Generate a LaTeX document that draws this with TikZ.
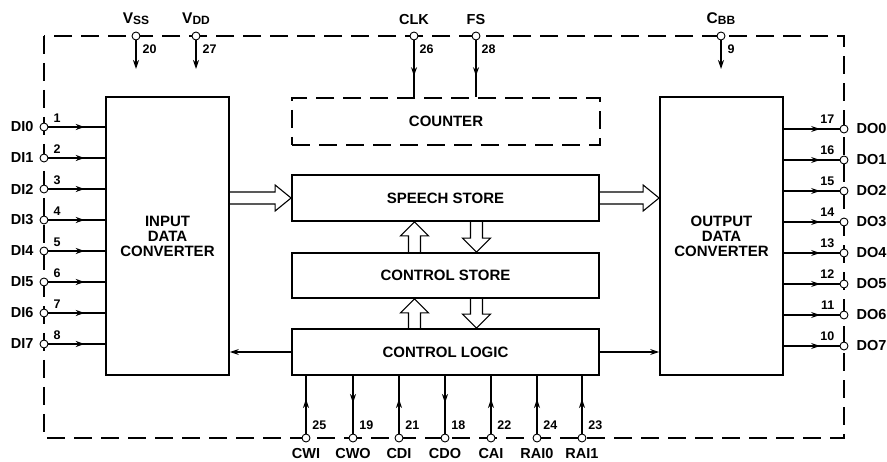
\documentclass[tikz,border=0pt]{standalone}
\usepackage{fontspec}
\setmainfont{Liberation Sans}
\usetikzlibrary{arrows.meta,positioning,calc,decorations.markings}

\tikzset{
  pintip/.tip={Stealth[length=9pt,width=6pt]},
  block/.style={draw, line width=1.8pt, align=center, inner sep=0pt,
                font=\fontsize{15}{15}\selectfont\bfseries},
  border/.style={line width=1.6pt, dash pattern=on 18pt off 9pt},
  pin/.style={draw, circle, fill=white, line width=0.9pt, minimum size=8pt, inner sep=0pt},
  pinlbl/.style={inner sep=0pt, font=\fontsize{14.5}{15}\selectfont\bfseries},
  num/.style={inner sep=0pt, font=\fontsize{12.5}{13}\selectfont\bfseries},
  wire/.style={line width=1.1pt},
  midarrow/.style={decoration={markings, mark=at position #1 with {\arrow{pintip}}},
                   postaction={decorate}},
  fatline/.style={line width=1.1pt, line join=miter},
}

% hollow bus arrows
\newcommand{\fatright}[2]{%
  \draw[fatline] let \p1=#1, \p2=#2 in
    (\x1,\y1+6pt) -- (\x2-16pt,\y1+6pt) -- (\x2-16pt,\y1+13pt) -- (\x2,\y1)
    -- (\x2-16pt,\y1-13pt) -- (\x2-16pt,\y1-6pt) -- (\x1,\y1-6pt);}
\newcommand{\fatup}[2]{%
  \draw[fatline] let \p1=#1, \p2=#2 in
    (\x1-6pt,\y1) -- (\x1-6pt,\y2-14pt) -- (\x1-14pt,\y2-14pt) -- (\x1,\y2)
    -- (\x1+14pt,\y2-14pt) -- (\x1+6pt,\y2-14pt) -- (\x1+6pt,\y1);}
\newcommand{\fatdown}[2]{%
  \draw[fatline] let \p1=#1, \p2=#2 in
    (\x1-6pt,\y1) -- (\x1-6pt,\y2+14pt) -- (\x1-14pt,\y2+14pt) -- (\x1,\y2)
    -- (\x1+14pt,\y2+14pt) -- (\x1+6pt,\y2+14pt) -- (\x1+6pt,\y1);}

\begin{document}
\begin{tikzpicture}[x=1pt, y=-1pt]
    \useasboundingbox (0,0) rectangle (887,462);

    % ---- package outline ----
    \draw[border] (44,36) rectangle (844,438);

    % ---- blocks ----
    \node[block, minimum width=123pt, minimum height=278pt] (idc) at (167.5,236)
      {INPUT\\DATA\\CONVERTER};
    \node[block, minimum width=123pt, minimum height=278pt] (odc) at (721.5,236)
      {OUTPUT\\DATA\\CONVERTER};
    \node[block, border, minimum width=308pt, minimum height=47pt] (counter) at (446,121.5)
      {COUNTER};
    \node[block, minimum width=307pt, minimum height=46pt] (speech) at (445.5,198)
      {SPEECH STORE};
    \node[block, minimum width=307pt, minimum height=45pt] (ctrlstore) at (445.5,275.5)
      {CONTROL STORE};
    \node[block, minimum width=307pt, minimum height=46pt] (logic) at (445.5,352)
      {CONTROL LOGIC};

    % ---- bus arrows ----
    \fatright{(idc.east |- speech)}{(speech.west)}
    \fatright{(speech.east)}{(odc.west |- speech)}
    \fatup{([xshift=-31pt]ctrlstore.north)}{([xshift=-31pt]speech.south)}
    \fatdown{([xshift=31pt]speech.south)}{([xshift=31pt]ctrlstore.north)}
    \fatup{([xshift=-31pt]logic.north)}{([xshift=-31pt]ctrlstore.south)}
    \fatdown{([xshift=31pt]ctrlstore.south)}{([xshift=31pt]logic.north)}

    % ---- control logic to converters ----
    \draw[wire, -{pintip}] (logic.west) -- (logic.west -| idc.east);
    \draw[wire, -{pintip}] (logic.east) -- (logic.east -| odc.west);

    % ---- top pins ----
    \node[pin] (vss) at (136,36) {};
    \node[pin] (vdd) at (196,36) {};
    \node[pin] (clk) at (414,36) {};
    \node[pin] (fs)  at (476,36) {};
    \node[pin] (cbb) at (721,36) {};
    \coordinate (vssend) at (136,69);
    \coordinate (vddend) at (196,69);
    \coordinate (cbbend) at (721,69);
    \draw[wire, -{pintip}] (vss) -- (vssend);
    \draw[wire, -{pintip}] (vdd) -- (vddend);
    \draw[wire, -{pintip}] (cbb) -- (cbbend);
    \draw[wire, midarrow=0.63] (clk) -- (clk |- counter.north);
    \draw[wire, midarrow=0.63] (fs) -- (fs |- counter.north);
    \node[pinlbl, anchor=south] at ([yshift=7pt]vss.north)
      {\fontsize{15.5}{16}\selectfont V\raisebox{-1pt}{\fontsize{12}{12}\selectfont SS}};
    \node[pinlbl, anchor=south] at ([yshift=7pt]vdd.north)
      {\fontsize{15.5}{16}\selectfont V\raisebox{-1pt}{\fontsize{12}{12}\selectfont DD}};
    \node[pinlbl, anchor=south] at ([yshift=7pt]clk.north) {CLK};
    \node[pinlbl, anchor=south] at ([yshift=7pt]fs.north) {FS};
    \node[pinlbl, anchor=south] at ([yshift=7pt]cbb.north)
      {\fontsize{15.5}{16}\selectfont C\raisebox{-1pt}{\fontsize{12}{12}\selectfont BB}};
    \node[num, anchor=north west] at ([xshift=2pt,yshift=-9pt]vss.east) {20};
    \node[num, anchor=north west] at ([xshift=2pt,yshift=-9pt]vdd.east) {27};
    \node[num, anchor=north west] at ([xshift=1pt,yshift=-9pt]clk.east) {26};
    \node[num, anchor=north west] at ([xshift=1pt,yshift=-9pt]fs.east) {28};
    \node[num, anchor=north west] at ([xshift=2pt,yshift=-9pt]cbb.east) {9};

    % ---- left pins: DI0..DI7 ----
    \node[pin] (di0) at (44,127) {};
    \node[pin] (di1) at (44,158) {};
    \node[pin] (di2) at (44,189) {};
    \node[pin] (di3) at (44,220) {};
    \node[pin] (di4) at (44,251) {};
    \node[pin] (di5) at (44,282) {};
    \node[pin] (di6) at (44,313) {};
    \node[pin] (di7) at (44,344) {};
    \draw[wire, midarrow=0.64] (di0) -- (di0 -| idc.west);
    \draw[wire, midarrow=0.64] (di1) -- (di1 -| idc.west);
    \draw[wire, midarrow=0.64] (di2) -- (di2 -| idc.west);
    \draw[wire, midarrow=0.64] (di3) -- (di3 -| idc.west);
    \draw[wire, midarrow=0.64] (di4) -- (di4 -| idc.west);
    \draw[wire, midarrow=0.64] (di5) -- (di5 -| idc.west);
    \draw[wire, midarrow=0.64] (di6) -- (di6 -| idc.west);
    \draw[wire, midarrow=0.64] (di7) -- (di7 -| idc.west);
    \node[pinlbl, anchor=east] at ([xshift=-6pt]di0.west) {DI0};
    \node[pinlbl, anchor=east] at ([xshift=-6pt]di1.west) {DI1};
    \node[pinlbl, anchor=east] at ([xshift=-6pt]di2.west) {DI2};
    \node[pinlbl, anchor=east] at ([xshift=-6pt]di3.west) {DI3};
    \node[pinlbl, anchor=east] at ([xshift=-6pt]di4.west) {DI4};
    \node[pinlbl, anchor=east] at ([xshift=-6pt]di5.west) {DI5};
    \node[pinlbl, anchor=east] at ([xshift=-6pt]di6.west) {DI6};
    \node[pinlbl, anchor=east] at ([xshift=-6pt]di7.west) {DI7};
    \node[num, anchor=base west] at ([xshift=5pt,yshift=4pt]di0.east) {1};
    \node[num, anchor=base west] at ([xshift=5pt,yshift=4pt]di1.east) {2};
    \node[num, anchor=base west] at ([xshift=5pt,yshift=4pt]di2.east) {3};
    \node[num, anchor=base west] at ([xshift=5pt,yshift=4pt]di3.east) {4};
    \node[num, anchor=base west] at ([xshift=5pt,yshift=4pt]di4.east) {5};
    \node[num, anchor=base west] at ([xshift=5pt,yshift=4pt]di5.east) {6};
    \node[num, anchor=base west] at ([xshift=5pt,yshift=4pt]di6.east) {7};
    \node[num, anchor=base west] at ([xshift=5pt,yshift=4pt]di7.east) {8};

    % ---- right pins: DO0..DO7 ----
    \node[pin] (do0) at (844,129) {};
    \node[pin] (do1) at (844,160) {};
    \node[pin] (do2) at (844,191) {};
    \node[pin] (do3) at (844,222) {};
    \node[pin] (do4) at (844,253) {};
    \node[pin] (do5) at (844,284) {};
    \node[pin] (do6) at (844,315) {};
    \node[pin] (do7) at (844,346) {};
    \draw[wire, midarrow=0.65] (do0 -| odc.east) -- (do0);
    \draw[wire, midarrow=0.65] (do1 -| odc.east) -- (do1);
    \draw[wire, midarrow=0.65] (do2 -| odc.east) -- (do2);
    \draw[wire, midarrow=0.65] (do3 -| odc.east) -- (do3);
    \draw[wire, midarrow=0.65] (do4 -| odc.east) -- (do4);
    \draw[wire, midarrow=0.65] (do5 -| odc.east) -- (do5);
    \draw[wire, midarrow=0.65] (do6 -| odc.east) -- (do6);
    \draw[wire, midarrow=0.65] (do7 -| odc.east) -- (do7);
    \node[pinlbl, anchor=west] at ([xshift=8pt]do0.east) {DO0};
    \node[pinlbl, anchor=west] at ([xshift=8pt]do1.east) {DO1};
    \node[pinlbl, anchor=west] at ([xshift=8pt]do2.east) {DO2};
    \node[pinlbl, anchor=west] at ([xshift=8pt]do3.east) {DO3};
    \node[pinlbl, anchor=west] at ([xshift=8pt]do4.east) {DO4};
    \node[pinlbl, anchor=west] at ([xshift=8pt]do5.east) {DO5};
    \node[pinlbl, anchor=west] at ([xshift=8pt]do6.east) {DO6};
    \node[pinlbl, anchor=west] at ([xshift=8pt]do7.east) {DO7};
    \node[num, anchor=base east] at ([xshift=-5pt,yshift=5pt]do0.west) {17};
    \node[num, anchor=base east] at ([xshift=-5pt,yshift=5pt]do1.west) {16};
    \node[num, anchor=base east] at ([xshift=-5pt,yshift=5pt]do2.west) {15};
    \node[num, anchor=base east] at ([xshift=-5pt,yshift=5pt]do3.west) {14};
    \node[num, anchor=base east] at ([xshift=-5pt,yshift=5pt]do4.west) {13};
    \node[num, anchor=base east] at ([xshift=-5pt,yshift=5pt]do5.west) {12};
    \node[num, anchor=base east] at ([xshift=-5pt,yshift=5pt]do6.west) {11};
    \node[num, anchor=base east] at ([xshift=-5pt,yshift=5pt]do7.west) {10};

    % ---- bottom pins ----
    \node[pin] (cwi)   at (306,438) {};
    \node[pin] (cwo)   at (353,438) {};
    \node[pin] (cdi)   at (399,438) {};
    \node[pin] (cdo)   at (445,438) {};
    \node[pin] (cai)   at (491,438) {};
    \node[pin] (raiz)  at (537,438) {};
    \node[pin] (raione) at (582,438) {};
    \draw[wire, midarrow=0.6]  (cwi) -- (cwi |- logic.south);
    \draw[wire, midarrow=0.47] (cwo |- logic.south) -- (cwo);
    \draw[wire, midarrow=0.6]  (cdi) -- (cdi |- logic.south);
    \draw[wire, midarrow=0.47] (cdo |- logic.south) -- (cdo);
    \draw[wire, midarrow=0.6]  (cai) -- (cai |- logic.south);
    \draw[wire, midarrow=0.6]  (raiz) -- (raiz |- logic.south);
    \draw[wire, midarrow=0.6]  (raione) -- (raione |- logic.south);
    \node[pinlbl, anchor=north] at ([yshift=-6pt]cwi.south) {CWI};
    \node[pinlbl, anchor=north] at ([yshift=-6pt]cwo.south) {CWO};
    \node[pinlbl, anchor=north] at ([yshift=-6pt]cdi.south) {CDI};
    \node[pinlbl, anchor=north] at ([yshift=-6pt]cdo.south) {CDO};
    \node[pinlbl, anchor=north] at ([yshift=-6pt]cai.south) {CAI};
    \node[pinlbl, anchor=north] at ([yshift=-6pt]raiz.south) {RAI0};
    \node[pinlbl, anchor=north] at ([yshift=-6pt]raione.south) {RAI1};
    \node[num, anchor=base west] at ([xshift=3pt,yshift=5pt]cwi.north east) {25};
    \node[num, anchor=base west] at ([xshift=3pt,yshift=5pt]cwo.north east) {19};
    \node[num, anchor=base west] at ([xshift=3pt,yshift=5pt]cdi.north east) {21};
    \node[num, anchor=base west] at ([xshift=3pt,yshift=5pt]cdo.north east) {18};
    \node[num, anchor=base west] at ([xshift=3pt,yshift=5pt]cai.north east) {22};
    \node[num, anchor=base west] at ([xshift=3pt,yshift=5pt]raiz.north east) {24};
    \node[num, anchor=base west] at ([xshift=3pt,yshift=5pt]raione.north east) {23};

\end{tikzpicture}
\end{document}
